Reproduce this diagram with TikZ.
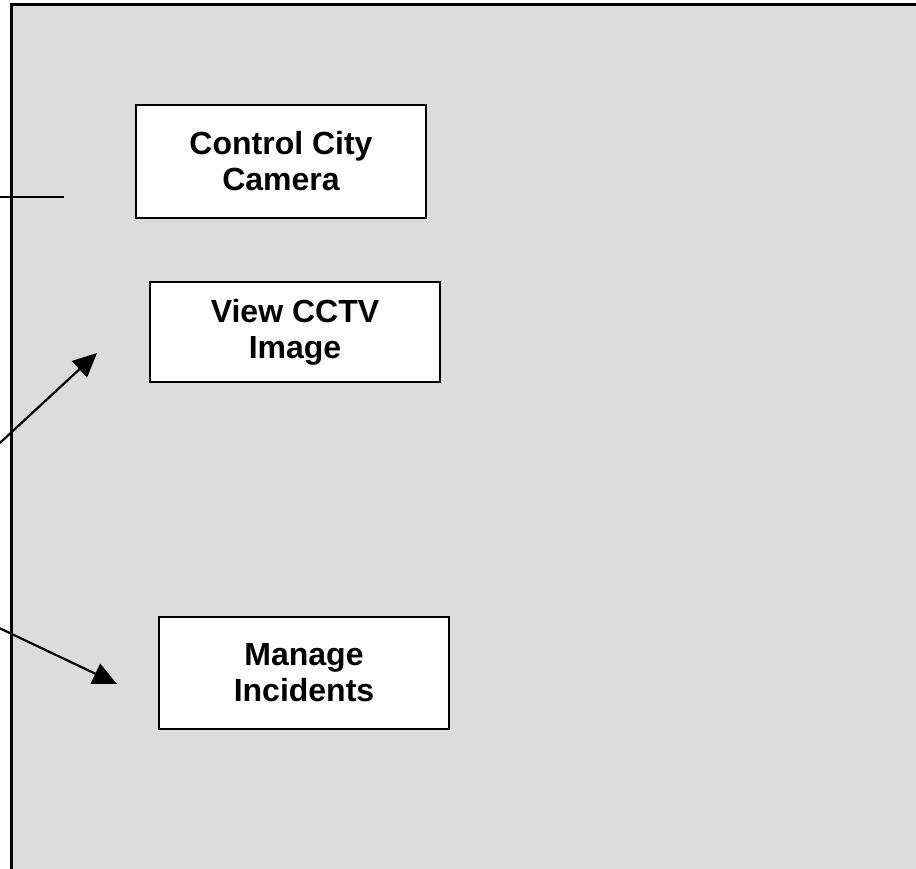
\documentclass[tikz,border=0pt]{standalone}
\usepackage{fontspec}
\setmainfont{Liberation Sans}
\usetikzlibrary{arrows.meta}
\definecolor{panelgray}{RGB}{220,220,220}
\tikzset{
  usecase/.style={draw=black,line width=1.4pt,fill=white,align=center,inner sep=0pt,
    minimum width=290pt,font=\fontsize{32}{36}\selectfont\bfseries},
  assoc/.style={line width=2.2pt,-{Triangle[length=24pt,width=22pt]}}
}
\begin{document}
\begin{tikzpicture}[x=1pt,y=-1pt]
\useasboundingbox (0,0) rectangle (916,868);
\draw[fill=panelgray,line width=2.6pt] (11.5,4.5) rectangle (940,890);
\node[usecase,minimum height=113pt] (control) at (281,161.5) {Control City\\Camera};
\node[usecase,minimum height=100pt] (view) at (295,332) {View CCTV\\Image};
\node[usecase,minimum height=112pt] (manage) at (304,673) {Manage\\Incidents};
\coordinate (a1) at (-5,197);
\coordinate (b1) at (64,197);
\coordinate (a2) at (-5,447.5);
\coordinate (b2) at (97,353);
\coordinate (a3) at (-5,626);
\coordinate (b3) at (117,684);
\draw[line width=2.2pt] (a1) -- (b1);
\draw[assoc] (a2) -- (b2);
\draw[assoc] (a3) -- (b3);
\end{tikzpicture}
\end{document}
